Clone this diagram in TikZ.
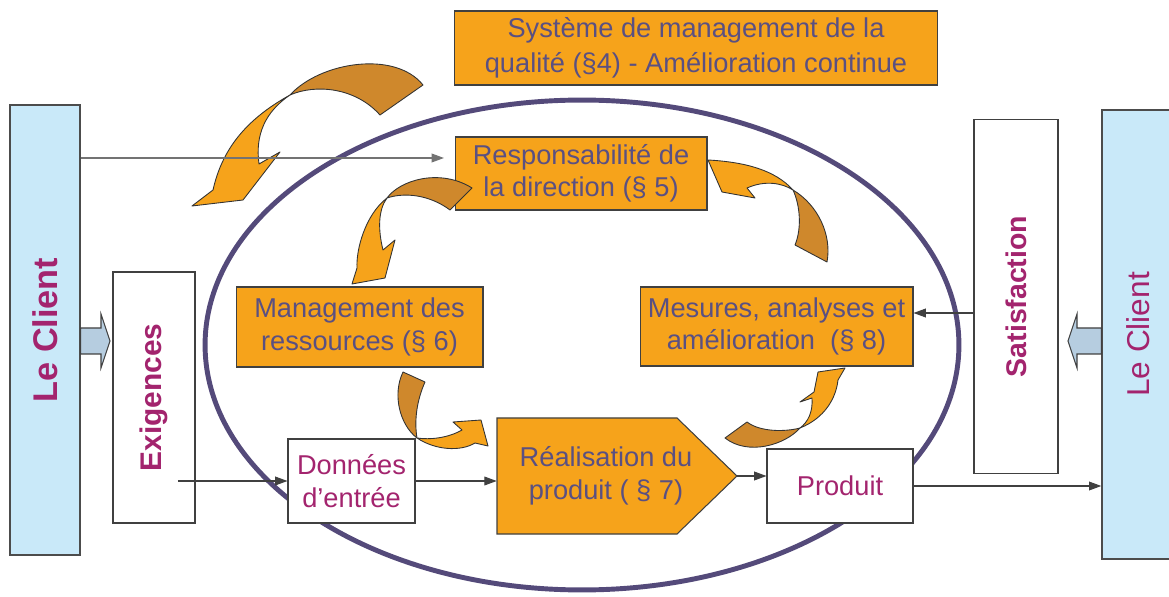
\documentclass[tikz,border=0pt]{standalone}
\usepackage{fontspec}
\setmainfont{Liberation Sans}
\usetikzlibrary{arrows.meta}

\definecolor{isoorange}{HTML}{F6A31B}
\definecolor{isobrown}{HTML}{CF882C}
\definecolor{isotext}{HTML}{5A5082}
\definecolor{isomagenta}{HTML}{A3246E}
\definecolor{isoring}{HTML}{544A7A}
\definecolor{clientblue}{HTML}{C9E9F9}
\definecolor{pushblue}{HTML}{B6CDE0}

\tikzset{
  procbox/.style={draw=black!75, fill=isoorange, text=isotext, align=center, line width=0.6pt, font=\fontsize{15.5}{18.5}\selectfont},
  plainbox/.style={draw=black!75, fill=white, text=isomagenta, align=center, line width=0.6pt, font=\fontsize{15.5}{18.5}\selectfont},
  clientbox/.style={draw=black!70, fill=clientblue, text=isomagenta, rotate=90, line width=0.8pt},
  flow/.style={draw=black!75, line width=0.6pt, -{Triangle[length=7pt,width=5pt]}},
  twistfront/.style={fill=isoorange, draw=black!80, line width=0.5pt, line join=round},
  twistback/.style={fill=isobrown, draw=black!80, line width=0.5pt, line join=round},
  pusharrow/.style={fill=pushblue, draw=black!75, line width=0.6pt},
}

\begin{document}
\begin{tikzpicture}[x=0.02cm, y=-0.02cm]
  \useasboundingbox (0,0) rectangle (1169,597);

  % the process ring
  \draw[isoring, line width=2.8pt] (582,345) ellipse [x radius=7.54cm, y radius=4.9cm];

  % customers on both sides
  \node (clientL) at (45,330) [clientbox, minimum width=9cm, minimum height=1.4cm, font=\fontsize{19.5}{22}\selectfont\bfseries] {Le Client};
  \node (clientR) at (1138,334.5) [clientbox, minimum width=8.98cm, minimum height=1.44cm, font=\fontsize{18}{22}\selectfont] {Le Client};

  \node (exig) at (154,397.5) [plainbox, rotate=90, minimum width=5.02cm, minimum height=1.64cm, font=\fontsize{17}{20}\selectfont\bfseries] {Exigences};
  \node (satis) at (1016,296.5) [plainbox, rotate=90, minimum width=7.1cm, minimum height=1.68cm, font=\fontsize{16.2}{20}\selectfont\bfseries] {Satisfaction};

  % process boxes
  \node (sys) at (696,48) [procbox, minimum width=9.68cm, minimum height=1.48cm, font=\fontsize{15.5}{20}\selectfont] {Système de management de la\\qualité (§4) - Amélioration continue};
  \node (resp) at (581,173.5) [procbox, minimum width=5.04cm, minimum height=1.46cm] {Responsabilité de\\la direction (§ 5)};
  \node (mgmt) at (359.5,327) [procbox, minimum width=4.94cm, minimum height=1.6cm] {Management des\\ressources (§ 6)};
  \node (mesures) at (776.5,326.5) [procbox, minimum width=5.46cm, minimum height=1.58cm] {Mesures, analyses et\\amélioration\ \ (§ 8)};

  \draw[procbox] (497,418) -- (677,418) -- (737,476) -- (677,534) -- (497,534) -- cycle;
  \node (real) at (606,476) [align=center, text=isotext, minimum width=4.36cm, minimum height=2.32cm, font=\fontsize{15.5}{18.5}\selectfont] {Réalisation du\\produit ( § 7)};
  \coordinate (realtip) at (737,476);

  \node (donnees) at (351.5,481) [plainbox, minimum width=2.54cm, minimum height=1.68cm] {Données\\d’entrée};
  \node (produit) at (840,486) [plainbox, minimum width=2.92cm, minimum height=1.48cm] {Produit};

  % push arrows from the customers
  \draw[pusharrow] (clientL.south |- 0,328) -- (101,328) -- (101,314) -- (110,341) -- (101,368) -- (101,354) -- (clientL.south |- 0,354) -- cycle;
  \draw[pusharrow] (clientR.north |- 0,328) -- (1077,328) -- (1077,314) -- (1068,341) -- (1077,368) -- (1077,354) -- (clientR.north |- 0,354) -- cycle;

  % twisted loop arrows
  \draw[twistback] (290,95) .. controls (320,62) and (395,50) .. (423,85) -- (380,115) .. controls (355,87) and (315,84) .. (290,95) -- cycle;
  \draw[twistfront] (290,95) .. controls (245,120) and (222,150) .. (213,190) -- (192,206) -- (243,200) -- (280,152) -- (259,164) .. controls (255,135) and (265,112) .. (290,95) -- cycle;

  \draw[twistback] (387,198) .. controls (400,180) and (440,168) .. (472,188) -- (450,210) .. controls (430,195) and (405,192) .. (387,198) -- cycle;
  \draw[twistfront] (387,198) .. controls (365,215) and (356,250) .. (357,268) -- (352,284) -- (385,278) -- (395,240) -- (383,250) .. controls (378,230) and (378,210) .. (387,198) -- cycle;

  \draw[twistback] (793,190) .. controls (818,205) and (832,235) .. (827,262) -- (795,245) .. controls (802,228) and (800,205) .. (793,190) -- cycle;
  \draw[twistfront] (793,190) .. controls (775,170) and (745,162) .. (708,160) -- (722,192) -- (755,198) -- (747,188) .. controls (765,180) and (782,183) .. (793,190) -- cycle;

  \draw[twistback] (403,372) -- (425,382) .. controls (417,400) and (414,420) .. (417,438) .. controls (400,425) and (392,395) .. (403,372) -- cycle;
  \draw[twistfront] (417,438) .. controls (435,450) and (460,452) .. (475,443) -- (488,446) -- (481,420) -- (453,422) -- (462,430) .. controls (448,438) and (430,440) .. (417,438) -- cycle;

  \draw[twistback] (725,438) -- (747,422) .. controls (760,432) and (785,432) .. (800,428) .. controls (785,445) and (748,456) .. (725,438) -- cycle;
  \draw[twistfront] (800,428) .. controls (825,418) and (836,398) .. (838,380) -- (845,368) -- (818,372) -- (814,392) -- (800,402) -- (812,398) .. controls (813,412) and (808,422) .. (800,428) -- cycle;

  % flows
  \draw[flow, draw=black!55] (clientL.south |- 0,158) -- ([xshift=-6pt]resp.west |- 0,158);
  \draw[flow] ([xshift=-10pt]exig.south |- donnees.west) -- (donnees.west);
  \draw[flow] (donnees.east) -- (donnees.east -| real.west);
  \draw[flow] (realtip) -- (realtip -| produit.west);
  \draw[flow] (produit.east) -- (produit.east -| clientR.north);
  \draw[flow] (satis.north |- 0,313) -- (mesures.east |- 0,313);
\end{tikzpicture}
\end{document}
